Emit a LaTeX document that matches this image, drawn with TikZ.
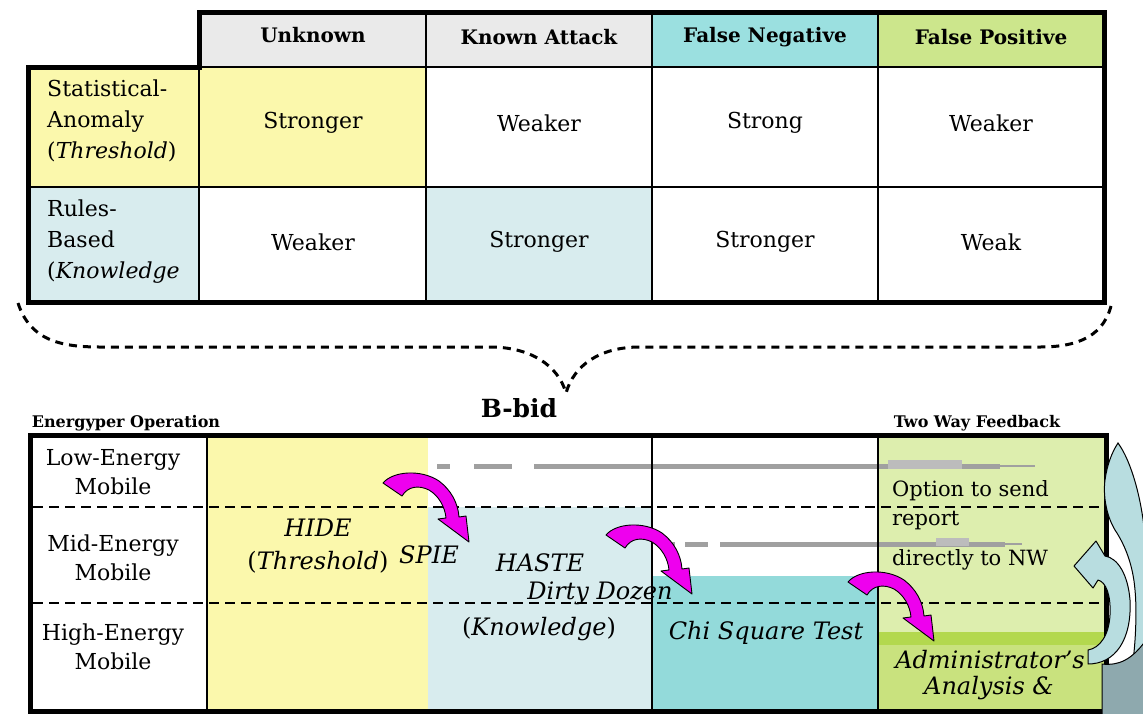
\documentclass[tikz,border=0pt]{standalone}
\usepackage{fontspec}
\setmainfont{DejaVu Serif}
\definecolor{hdrgray}{HTML}{EAEAEA}
\definecolor{fnteal}{HTML}{9BE0E0}
\definecolor{fpgreen}{HTML}{CCE68C}
\definecolor{paleyellow}{HTML}{FBF8AC}
\definecolor{paleblue}{HTML}{D8ECEE}
\definecolor{tealfill}{HTML}{93DADA}
\definecolor{greenlight}{HTML}{DDEEAE}
\definecolor{greenband}{HTML}{B3D84E}
\definecolor{greenlow}{HTML}{C9E27E}
\definecolor{arrowmag}{HTML}{EE00EE}
\definecolor{fbblue}{HTML}{B8DDE0}
\definecolor{fbshade}{HTML}{8EA9AE}
\definecolor{motiongray}{HTML}{A0A0A0}
\tikzset{
  hdr/.style={font=\fontsize{20}{24}\selectfont\bfseries, inner sep=0},
  body/.style={font=\fontsize{22}{31}\selectfont, inner sep=0},
  lbl/.style={font=\fontsize{22}{29.5}\selectfont, align=center, inner sep=0},
  ital/.style={font=\fontsize{24}{30}\selectfont\itshape, inner sep=0},
  opt/.style={font=\fontsize{21}{30}\selectfont, inner sep=0},
  small/.style={font=\fontsize{16}{19}\selectfont\bfseries, inner sep=0},
  outer/.style={line width=5pt, line join=miter},
  gridline/.style={line width=2.6pt},
  thingrid/.style={line width=1.5pt},
  band/.style={dash pattern=on 10pt off 6pt, line width=2.6pt},
  brace/.style={dash pattern=on 8pt off 6pt, line width=3pt},
  motion/.style={line width=5pt, motiongray},
  pics/bentarrow/.style={code={
    \filldraw[fill=arrowmag, draw=black, line width=0.9pt, line join=round]
      (0,0) .. controls (10,-12) and (38,-14) .. (56,-2)
      .. controls (68,7) and (75,20) .. (76,34) -- (83,33) -- (86,59)
      -- (55,36) -- (63,35)
      .. controls (62,24) and (56,13) .. (46,7)
      .. controls (36,2) and (25,3) .. (19,13) -- cycle;
  }}
}
\begin{document}
\begin{tikzpicture}[x=1pt,y=-1pt]
\useasboundingbox (0,0) rectangle (1143,713);
\clip (0,0) rectangle (1143,713);
\fill[white] (0,0) rectangle (1143,713);

% ---------- comparison table ----------
\fill[hdrgray] (199,12) rectangle (652,67);
\fill[fnteal] (652,12) rectangle (878,67);
\fill[fpgreen] (878,12) rectangle (1104,67);
\fill[paleyellow] (28,67) rectangle (426,187);
\fill[paleblue] (28,187) rectangle (199,302);
\fill[paleblue] (426,187) rectangle (652,302);

\draw[gridline] (199,67) -- (199,302);
\foreach \cx in {426,652,878} \draw[gridline] (\cx,12) -- (\cx,302);
\draw[gridline] (199,67) -- (1104,67);
\draw[gridline] (28,187) -- (1104,187);
\draw[outer] (28,67) -- (199,67) -- (199,12) -- (1104,12) -- (1104,302) -- (28,302) -- cycle;

\node[hdr] (hUnknown) at (313,35) {Unknown};
\node[hdr] (hKnown) at (539,37) {Known Attack};
\node[hdr] (hFN) at (765,37) {False Negative};
\node[hdr] (hFP) at (991,37) {False Positive};

\node[body, align=left, anchor=west] (rStat) at (47,121) {Statistical-\\Anomaly\\(\textit{Threshold})};
\node[body, align=left, anchor=west] (rRules) at (47,242) {Rules-\\Based\\(\textit{Knowledge}};

\node[body] (c11) at (313,123) {Stronger};
\node[body] (c12) at (539,123) {Weaker};
\node[body] (c13) at (765,123) {Strong};
\node[body] (c14) at (991,123) {Weaker};
\node[body] (c21) at (313,242) {Weaker};
\node[body] (c22) at (539,242) {Stronger};
\node[body] (c23) at (765,242) {Stronger};
\node[body] (c24) at (991,242) {Weak};

% ---------- brace down to the hybrid ----------
\coordinate (braceL) at (18,303);
\coordinate (braceR) at (1112,302);
\coordinate (braceTip) at (566,393);
\draw[brace] (braceL) .. controls (30,340) and (60,347) .. (100,347) -- (490,347)
  .. controls (530,347) and (558,365) .. (braceTip)
  .. controls (574,365) and (600,347) .. (640,347) -- (1040,347)
  .. controls (1080,347) and (1105,335) .. (braceR);
\node[font=\fontsize{25}{30}\selectfont\bfseries, inner sep=0] (bbid) at (519,408) {B-bid};

\node[small] (energy) at (126,423) {Energyper Operation};
\node[small] (feedback) at (977,423) {Two Way Feedback};

% ---------- hybrid panel ----------
\fill[paleyellow] (207,435) rectangle (428,711);
\fill[paleblue] (428,507) rectangle (652,711);
\fill[tealfill] (652,576) rectangle (878,711);
\fill[greenlight] (878,435) rectangle (1106,632);
\fill[greenband] (878,632) rectangle (1106,645);
\fill[greenlow] (878,645) rectangle (1106,711);

% motion streaks
\draw[motion] (437,466) -- (450,466);
\draw[motion] (474,466) -- (512,466);
\draw[motion] (534,466) -- (1000,466);
\draw[motion, line width=2pt] (1000,466) -- (1035,466);
\draw[motion, line width=9pt, motiongray!70] (888,464) -- (962,464);
\draw[motion] (668,544) -- (675,544);
\draw[motion] (685,544) -- (708,544);
\draw[motion] (720,544) -- (1005,544);
\draw[motion, line width=2pt] (1005,544) -- (1022,544);
\draw[motion, line width=8pt, motiongray!70] (936,542) -- (969,542);

\draw[band] (33,507) -- (1104,507);
\draw[band] (33,603) -- (1104,603);

\draw[thingrid] (207,435) -- (207,711);
\draw[gridline] (652,435) -- (652,711);
\draw[gridline] (878,435) -- (878,711);
\draw[outer] (30,435) rectangle (1106,711);

% row labels
\node[lbl] (low) at (113,472) {Low-Energy\\Mobile};
\node[lbl] (mid) at (113,558) {Mid-Energy\\Mobile};
\node[lbl] (high) at (113,647) {High-Energy\\Mobile};

% detector labels
\node[ital] (hide) at (318,528) {HIDE};
\node[ital] (hideT) at (318,562) {\upshape(\textit{Threshold})};
\node[ital] (spie) at (429,555) {SPIE};
\node[ital] (haste) at (540,563) {HASTE};
\node[ital] (dozen) at (600,593) {Dirty Dozen};
\node[ital] (knowT) at (539,629) {\upshape(\textit{Knowledge})};
\node[ital] (chi) at (766,633) {Chi Square Test};
\node[opt, anchor=west] (opt1) at (892,491) {Option to send};
\node[opt, anchor=west] (opt2) at (892,521) {report};
\node[opt, anchor=west] (opt3) at (892,560) {directly to NW};
\node[ital] (admin) at (990,660) {Administrator's};
\node[ital] (anal) at (989,688) {Analysis \&};

% hand-off arrows between detectors
\pic (hop1) at (383,483) {bentarrow};
\pic (hop2) at (606,535) {bentarrow};
\pic (hop3) at (848,582) {bentarrow};

% two way feedback loop
\filldraw[fill=fbblue, draw=black, line width=1pt]
  (1118,443) .. controls (1134,465) and (1146,515) .. (1146,560) -- (1146,680) -- (1130,680)
  .. controls (1136,650) and (1137,610) .. (1135,590)
  .. controls (1133,565) and (1125,545) .. (1115,530)
  .. controls (1106,515) and (1103,495) .. (1105,480)
  .. controls (1107,465) and (1112,452) .. (1118,443) -- cycle;
\filldraw[fill=fbshade, draw=black, line width=1pt]
  (1102,716) -- (1102,664) .. controls (1118,666) and (1132,660) .. (1146,640) -- (1146,716) -- cycle;
\filldraw[fill=fbblue, draw=black, line width=1pt, line join=round]
  (1088,664) .. controls (1115,664) and (1132,640) .. (1130,600)
  .. controls (1128,575) and (1118,558) .. (1105,556)
  -- (1096,541) -- (1074,566) -- (1093,588) -- (1098,580)
  .. controls (1106,582) and (1111,595) .. (1110,615)
  .. controls (1109,635) and (1100,648) .. (1088,650) -- cycle;
\end{tikzpicture}
\end{document}
